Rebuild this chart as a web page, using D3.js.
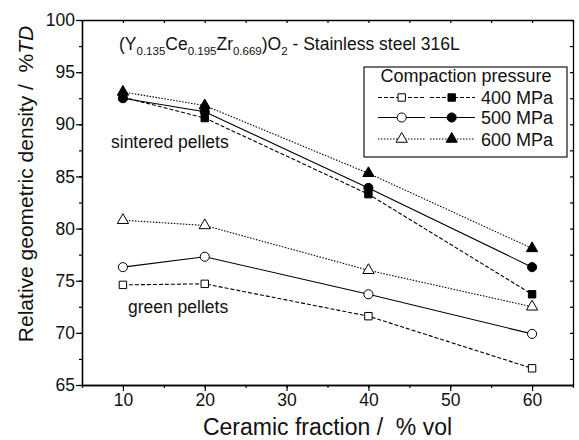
<!DOCTYPE html>
<html><head><meta charset="utf-8">
<script src="https://cdn.jsdelivr.net/npm/d3@7"></script>
<style>body{margin:0;background:#fff;} text{font-family:Arial,"Liberation Sans",sans-serif;fill:#111;}</style>
</head><body><svg id="c" width="579" height="440"></svg>
<script>
const fractions = [10, 20, 40, 60];
const sintered400 = [92.6, 90.6, 83.3, 73.7];
const sintered500 = [92.5, 91.2, 83.9, 76.3];
const sintered600 = [93.1, 91.8, 85.3, 78.1];
const green400 = [74.6, 74.7, 71.6, 66.6];
const green500 = [76.3, 77.3, 73.7, 69.9];
const green600 = [80.8, 80.3, 76.0, 72.5];
const xTicks = [10, 20, 30, 40, 50, 60];
const yTicks = [65, 70, 75, 80, 85, 90, 95, 100];
const pressures = ["400 MPa", "500 MPa", "600 MPa"];

const svg = d3.select("#c");
const L = 82, R = 573, T = 20, B = 385;
const x = d3.scaleLinear().domain([5, 65]).range([L, R]);
const y = d3.scaleLinear().domain([65, 100]).range([B, T]);

const styles = {
  "400 MPa": {dash: "4,2", shape: d3.symbolSquare, size: 55},
  "500 MPa": {dash: null, shape: d3.symbolCircle, size: 65},
  "600 MPa": {dash: "1.5,1.5", shape: d3.symbolTriangle, size: 55}
};
const series = [
  {p: "400 MPa", v: green400, fill: false},
  {p: "500 MPa", v: green500, fill: false},
  {p: "600 MPa", v: green600, fill: false},
  {p: "400 MPa", v: sintered400, fill: true},
  {p: "500 MPa", v: sintered500, fill: true},
  {p: "600 MPa", v: sintered600, fill: true}
];

function axisStyle(g){ g.select(".domain").attr("stroke","#000").attr("stroke-width",1.3); g.selectAll(".tick line").attr("stroke","#000").attr("stroke-width",1.2); g.selectAll("text").attr("font-size","17.5px").attr("fill","#111").style("font-family","Arial, 'Liberation Sans', sans-serif"); }
const minorX = d3.range(5, 66, 5), minorY = d3.range(65, 100.1, 2.5);
svg.append("g").attr("transform",`translate(0,${B})`).call(d3.axisBottom(x).tickValues(minorX).tickFormat("").tickSize(3).tickSizeOuter(0)).call(axisStyle);
svg.append("g").attr("transform",`translate(0,${B})`).call(d3.axisBottom(x).tickValues(xTicks).tickSize(6).tickPadding(3).tickSizeOuter(0)).call(axisStyle);
svg.append("g").attr("transform",`translate(${L},0)`).call(d3.axisLeft(y).tickValues(minorY).tickFormat("").tickSize(3).tickSizeOuter(0)).call(axisStyle);
svg.append("g").attr("transform",`translate(${L},0)`).call(d3.axisLeft(y).tickValues(yTicks).tickSize(6).tickPadding(1).tickSizeOuter(0)).call(axisStyle);
svg.append("g").attr("transform",`translate(0,${T})`).call(d3.axisBottom(x).tickValues(minorX).tickFormat("").tickSize(3).tickSizeOuter(0)).call(axisStyle);
svg.append("g").attr("transform",`translate(${R},0)`).call(d3.axisRight(y).tickValues(minorY).tickFormat("").tickSize(-3).tickSizeOuter(0)).call(axisStyle);

const line = d3.line().x((d,i)=>x(fractions[i])).y(d=>y(d));
series.forEach(s=>{
  const st = styles[s.p];
  svg.append("path").datum(s.v).attr("d", line).attr("fill","none").attr("stroke","#000").attr("stroke-width",1.1)
    .attr("stroke-dasharray", st.dash);
});
series.forEach(s=>{
  const st = styles[s.p];
  svg.append("g").selectAll("path").data(s.v).join("path")
    .attr("transform",(d,i)=>`translate(${x(fractions[i])},${y(d)})`)
    .attr("d", d3.symbol().type(st.shape).size(st.size))
    .attr("fill", s.fill ? "#000" : "#fff").attr("stroke","#000").attr("stroke-width",1);
});

const t = svg.append("text").attr("x",119).attr("y",50).attr("font-size","17.5px");
const sub = (txt)=>{ t.append("tspan").attr("font-size","11.5px").attr("dy",5).text(txt); };
t.append("tspan").text("(Y"); sub("0.135");
t.append("tspan").attr("dy",-5).text("Ce"); sub("0.195");
t.append("tspan").attr("dy",-5).text("Zr"); sub("0.669");
t.append("tspan").attr("dy",-5).text(")O"); sub("2");
t.append("tspan").attr("dy",-5).text(" - Stainless steel 316L");

svg.append("text").attr("x",111).attr("y",148).attr("font-size","17.5px").text("sintered pellets");
svg.append("text").attr("x",128).attr("y",313).attr("font-size","17.5px").text("green pellets");

const lg = svg.append("g");
lg.append("rect").attr("x",364).attr("y",67).attr("width",203).attr("height",90).attr("fill","#fff").attr("stroke","#000").attr("stroke-width",1.1);
lg.append("text").attr("x",466).attr("y",82).attr("text-anchor","middle").attr("font-size","18px").text("Compaction pressure");
pressures.forEach((p,i)=>{
  const st = styles[p];
  const yy = [97.5, 117.5, 139][i];
  [[378,425,401.7,false],[430,475,451.7,true]].forEach(([x1,x2,cx,f])=>{
    lg.append("line").attr("x1",x1).attr("x2",x2).attr("y1",yy).attr("y2",yy).attr("stroke","#000").attr("stroke-width",1.1).attr("stroke-dasharray",st.dash);
    lg.append("path").attr("transform",`translate(${cx},${yy})`).attr("d",d3.symbol().type(st.shape).size(st.size))
      .attr("fill", f?"#000":"#fff").attr("stroke","#000");
  });
  lg.append("text").attr("x",481).attr("y",yy+6.5).attr("font-size","18px").text(p);
});

svg.append("text").attr("x",(L+R)/2).attr("y",435).attr("text-anchor","middle").attr("font-size","23px").text("Ceramic fraction /\u00a0 % vol");
const yt = svg.append("text").attr("transform",`translate(33,${184}) rotate(-90)`).attr("text-anchor","middle").attr("font-size","21px");
yt.append("tspan").text("Relative geometric density /\u00a0 %");
yt.append("tspan").attr("font-style","italic").text("TD");
</script></body></html>
